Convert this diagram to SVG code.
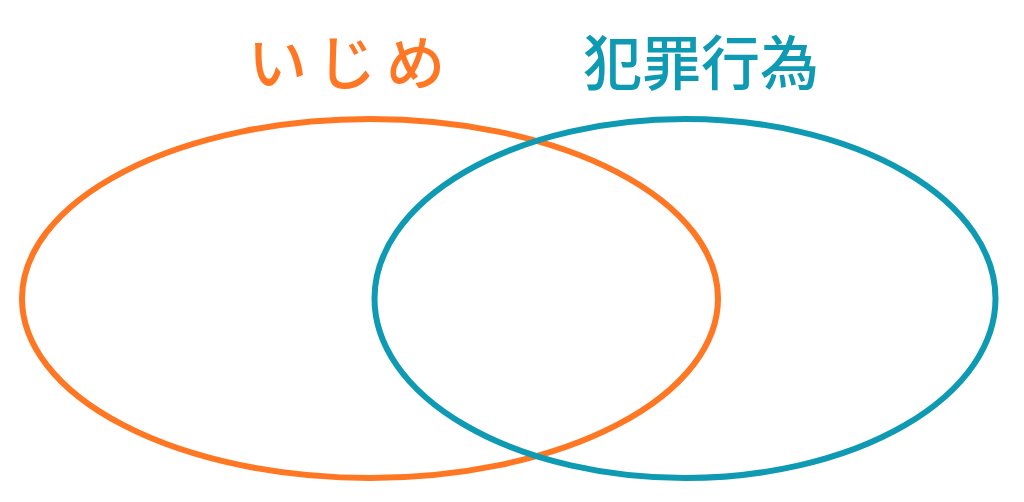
<svg xmlns="http://www.w3.org/2000/svg" width="1024" height="502" viewBox="0 0 1024 502">
<style>
.ring{fill:none;stroke-width:6}
.label{font-family:"Noto Sans CJK JP","Noto Sans",sans-serif;font-size:59px;font-weight:500}
</style>
<rect width="1024" height="502" fill="#ffffff"/>
<g id="connectors"></g>
<g id="ijime">
<ellipse class="ring" cx="370" cy="298.5" rx="348" ry="179.5" stroke="#FF7722"/>
<text class="label" x="248" y="85" fill="#FF7722" letter-spacing="10">いじめ</text>
</g>
<g id="hanzai">
<ellipse class="ring" cx="685" cy="298.5" rx="310.5" ry="179.5" stroke="#0E9AB2"/>
<text class="label" x="583" y="85" fill="#0E9AB2">犯罪行為</text>
</g>
</svg>
